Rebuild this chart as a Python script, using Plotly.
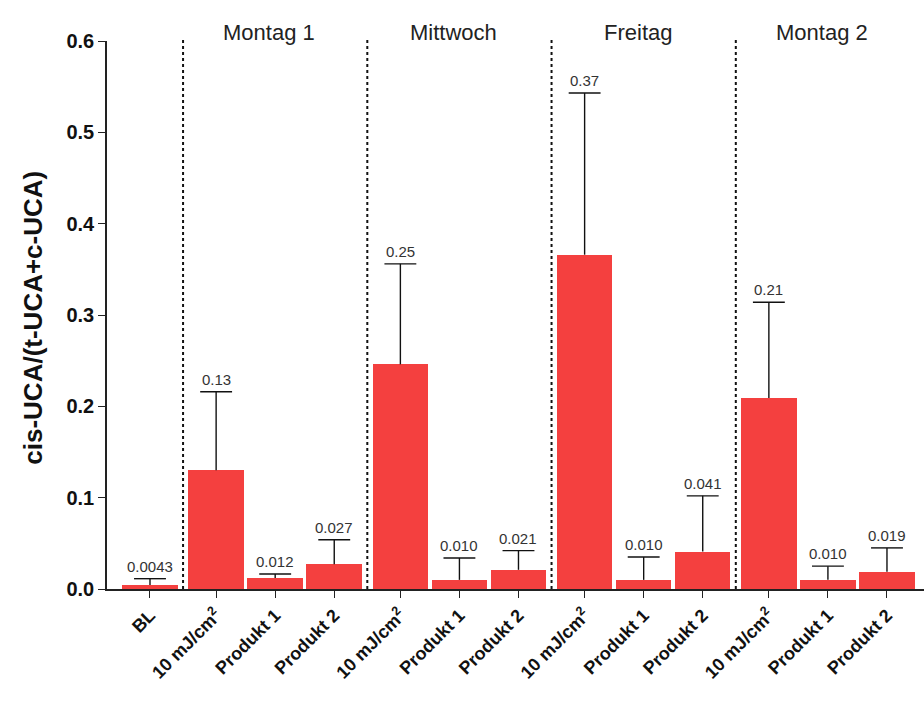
import plotly.graph_objects as go

# Data: cis-UCA ratio per treatment and day (mean, upper SD)
groups = ["", "Montag 1", "Mittwoch", "Freitag", "Montag 2"]
categories = ["BL",
              "10 mJ/cm<sup>2</sup>", "Produkt 1", "Produkt 2",
              "10 mJ/cm<sup>2</sup>", "Produkt 1", "Produkt 2",
              "10 mJ/cm<sup>2</sup>", "Produkt 1", "Produkt 2",
              "10 mJ/cm<sup>2</sup>", "Produkt 1", "Produkt 2"]
group_of = [0, 1, 1, 1, 2, 2, 2, 3, 3, 3, 4, 4, 4]
means = [0.0043,
         0.130, 0.012, 0.027,
         0.246, 0.010, 0.021,
         0.366, 0.010, 0.041,
         0.209, 0.010, 0.019]
errors = [0.007,
          0.086, 0.0044, 0.027,
          0.110, 0.024, 0.021,
          0.177, 0.025, 0.061,
          0.105, 0.015, 0.026]
y_ticks = [0.0, 0.1, 0.2, 0.3, 0.4, 0.5, 0.6]
y_title = "cis-UCA/(t-UCA+c-UCA)"

GAP = 0.12       # extra spacing between day groups
CAP_HALF = 0.27  # half width of error-bar caps (x units)
xpos = [i + GAP * g for i, g in enumerate(group_of)]

FONT = "Arial, Liberation Sans, sans-serif"
RED = "#F4403F"


def fmt2(v):
    """Format to two significant digits, keeping trailing zeros."""
    s = f"{v:.2g}"
    digits = s.replace("0.", "", 1).lstrip("0").replace(".", "")
    if len(digits) < 2:
        s += "0" if "." in s else ".0"
    return s


fig = go.Figure()
fig.add_trace(go.Bar(
    x=xpos, y=means, width=0.94,
    marker=dict(color=RED, line=dict(width=0)),
    showlegend=False, hoverinfo="skip",
))

# one-sided (upper) error bars: stem from bar top plus a cap
ex, ey = [], []
for x, m, e in zip(xpos, means, errors):
    ex += [x, x, None, x - CAP_HALF, x + CAP_HALF, None]
    ey += [m, m + e, None, m + e, m + e, None]
fig.add_trace(go.Scatter(
    x=ex, y=ey, mode="lines", line=dict(color="#111111", width=1.4),
    showlegend=False, hoverinfo="skip",
))

# value labels above the error caps
for x, m, e in zip(xpos, means, errors):
    fig.add_annotation(x=x, y=m + e, text=fmt2(m), showarrow=False,
                       yanchor="bottom", yshift=2,
                       font=dict(family=FONT, size=15, color="#333333"))

# dotted separators and day titles
for g in range(1, len(groups)):
    idx = [i for i, gg in enumerate(group_of) if gg == g]
    left = (xpos[idx[0] - 1] + xpos[idx[0]]) / 2
    fig.add_shape(type="line", xref="x", yref="paper", x0=left, x1=left,
                  y0=0, y1=1.005, line=dict(color="#111111", width=2, dash="dot"))
    center = (xpos[idx[0]] + xpos[idx[-1]]) / 2
    fig.add_annotation(x=center, xref="x", y=1.0, yref="paper", text=groups[g],
                       showarrow=False, yanchor="bottom", yshift=-6, xshift=-6,
                       font=dict(family=FONT, size=22, color="#222222"))

# rotated y-axis title
fig.add_annotation(x=-0.0906, xref="paper", y=0.495, yref="paper",
                   text=y_title, textangle=-90, showarrow=False,
                   xanchor="center", yanchor="middle",
                   font=dict(family=FONT, size=26, color="#111111", weight="bold"))

fig.update_layout(
    width=924, height=701,
    margin=dict(l=107, r=0, t=41, b=112),
    paper_bgcolor="white", plot_bgcolor="white",
    font=dict(family=FONT, color="#111111"),
    bargap=0,
)
fig.update_xaxes(
    range=[-0.728, xpos[-1] + 0.627],
    tickmode="array", tickvals=xpos, ticktext=categories,
    tickangle=-45, tickfont=dict(family=FONT, size=18, color="#111111", weight="bold"),
    ticks="outside", ticklen=7, tickwidth=1.3, tickcolor="#222222",
    showline=True, linecolor="#222222", linewidth=1.5,
    showgrid=False, zeroline=False,
)
fig.update_yaxes(
    range=[0, 0.6], tickmode="array", tickvals=y_ticks,
    tickformat=".1f",
    tickfont=dict(family=FONT, size=20, color="#111111", weight="bold"),
    ticks="outside", ticklen=7, tickwidth=1.3, tickcolor="#222222",
    showline=True, linecolor="#222222", linewidth=1.5,
    showgrid=False, zeroline=False,
)

fig.write_html("out.html")
